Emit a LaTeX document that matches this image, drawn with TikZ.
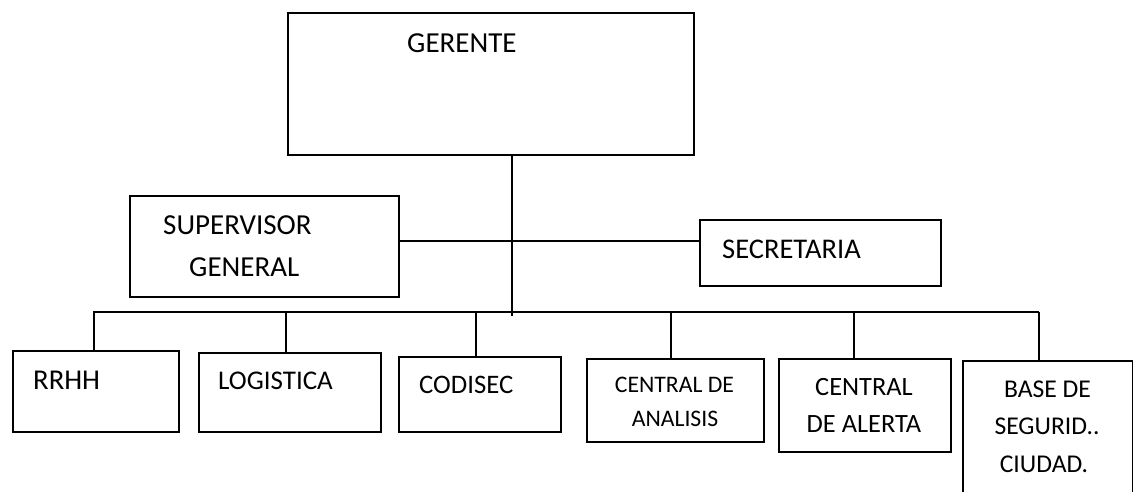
\documentclass[tikz,border=0pt]{standalone}
\usepackage{fontspec}
\setmainfont{Carlito}
\newcommand{\fsz}[1]{\fontsize{#1}{#1}\selectfont}
\begin{document}
\begin{tikzpicture}[x=1pt,y=-1pt,
  box/.style={draw, line width=2pt, rectangle, inner sep=0pt, anchor=north west},
  lbl/.style={anchor=base west, inner sep=0pt},
  clbl/.style={anchor=base, inner sep=0pt},
  wire/.style={line width=1.6pt}]
\useasboundingbox (0,0) rectangle (1133,491);
% boxes
\node[box, minimum width=406pt, minimum height=142pt] (ger) at (287,12) {};
\node[box, minimum width=269pt, minimum height=101pt] (sup) at (129,195) {};
\node[box, minimum width=241pt, minimum height=66pt] (sec) at (699,219) {};
\node[box, minimum width=166pt, minimum height=81pt] (rrhh) at (12,350) {};
\node[box, minimum width=182pt, minimum height=79pt] (logi) at (198,352) {};
\node[box, minimum width=162pt, minimum height=75pt] (codi) at (398,356) {};
\node[box, minimum width=177pt, minimum height=83pt] (ana) at (586,358) {};
\node[box, minimum width=172pt, minimum height=93pt] (ale) at (778,358) {};
\node[box, minimum width=170pt, minimum height=140pt] (base) at (962,360) {};
% texts
\node[lbl, font=\fsz{29}] (tger) at (407,52) {GERENTE};
\node[lbl, font=\fsz{29}] (tsup1) at (163,234) {SUPERVISOR};
\node[lbl, font=\fsz{29}] (tsup2) at (189,276) {GENERAL};
\node[lbl, font=\fsz{28.5}] (tsec) at (722,258) {SECRETARIA};
\node[lbl, font=\fsz{28.7}] (trrhh) at (33,389) {RRHH};
\node[lbl, font=\fsz{27}] (tlogi) at (218,389) {LOGISTICA};
\node[lbl, font=\fsz{26.7}] (tcodi) at (419,393) {CODISEC};
\node[clbl, font=\fsz{23.7}] (tana1) at (674.5,392) {CENTRAL DE};
\node[clbl, font=\fsz{23.7}] (tana2) at (675,426) {ANALISIS};
\node[clbl, font=\fsz{26.4}] (tale1) at (864,395) {CENTRAL};
\node[clbl, font=\fsz{26.4}] (tale2) at (864,432) {DE ALERTA};
\node[clbl, font=\fsz{25.6}] (tbase1) at (1047.5,397) {BASE DE};
\node[clbl, font=\fsz{25.6}] (tbase2) at (1047,434) {SEGURID..};
\node[clbl, font=\fsz{25.6}] (tbase3) at (1044,472) {CIUDAD.};
% connector points
\coordinate (trunk) at (512,316);
\coordinate (mid) at (512,241);
\coordinate (busL) at (93,312);
\coordinate (busR) at (1039,312);
\coordinate (d1) at (94,312);
\coordinate (d2) at (286,312);
\coordinate (d3) at (476,312);
\coordinate (d4) at (671,312);
\coordinate (d5) at (854,312);
\coordinate (d6) at (1039,312);
% connectors
\draw[wire] (ger.south -| trunk) -- (trunk);
\draw[wire] (sup.east |- mid) -- (sec.west |- mid);
\draw[wire] (busL) -- (busR);
\draw[wire] (d1) -- (rrhh.north -| d1);
\draw[wire] (d2) -- (logi.north -| d2);
\draw[wire] (d3) -- (codi.north -| d3);
\draw[wire] (d4) -- (ana.north -| d4);
\draw[wire] (d5) -- (ale.north -| d5);
\draw[wire] (d6) -- (base.north -| d6);
\end{tikzpicture}
\end{document}
